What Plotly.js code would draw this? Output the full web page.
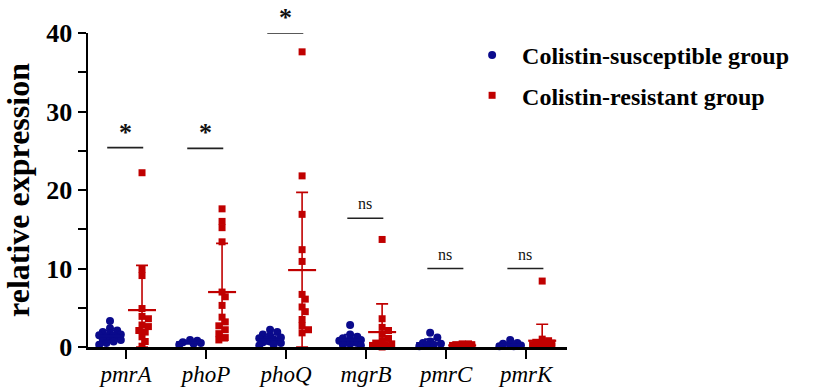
<!DOCTYPE html>
<html><head><meta charset="utf-8">
<script src="https://cdn.plot.ly/plotly-3.0.1.min.js"></script>
<style>html,body{margin:0;padding:0;background:#fff}#chart{width:813px;height:391px}</style>
</head><body><div id="chart"></div>
<script>
const genes = ['pmrA','phoP','phoQ','mgrB','pmrC','pmrK'];
const seriesNames = ['Colistin-susceptible group','Colistin-resistant group'];

const suscValues = [
  [3.3, 2.4, 2.1, 1.9, 1.7, 1.6, 1.5, 1.4, 1.3, 1.2, 1.1, 1.0, 0.9, 0.7, 0.5, 0.3],
  [0.9, 0.8, 0.6, 0.5, 0.4, 0.3],
  [2.2, 1.9, 1.6, 1.4, 1.2, 1.1, 1.0, 0.9, 0.8, 0.7, 0.6, 0.5, 0.3, 0.2],
  [2.8, 1.6, 1.3, 1.1, 1.0, 0.9, 0.8, 0.7, 0.6, 0.5, 0.4, 0.3, 0.2],
  [1.8, 1.2, 0.7, 0.5, 0.4, 0.3, 0.2, 0.1],
  [0.9, 0.5, 0.4, 0.3, 0.2, 0.1, 0.1]
];
const resValues = [
  [22.2, 9.9, 9.1, 4.9, 3.9, 3.6, 2.8, 2.6, 2.1, 1.9, 1.3, 0.7, 0.1],
  [17.6, 16.0, 15.2, 13.4, 7.0, 6.4, 5.3, 3.8, 3.2, 2.7, 2.2, 1.7, 1.2, 0.9],
  [37.6, 21.8, 16.9, 12.4, 10.9, 6.7, 6.1, 5.1, 4.5, 3.5, 2.7, 2.2, 1.8],
  [13.7, 3.6, 2.5, 2.1, 1.6, 1.1, 0.7, 0.5, 0.4, 0.3, 0.2, 0.1, 0.1, 0.0],
  [0.4, 0.4, 0.3, 0.3, 0.3, 0.2, 0.2, 0.2, 0.1, 0.1, 0.1, 0.1],
  [8.4, 1.0, 0.8, 0.6, 0.5, 0.4, 0.3, 0.3, 0.2, 0.2, 0.1, 0.1]
];
const suscMean = [1.4, 0.6, 1.0, 0.9, 0.5, 0.3];
const suscSD   = [0.7, 0.2, 0.6, 0.7, 0.5, 0.3];
const resMean  = [4.7, 7.0, 9.8, 1.9, 0.2, 0.8];
const resSD    = [5.7, 6.2, 9.9, 3.6, 0.1, 2.1];

const sigLabels  = ['*', '*', '*', 'ns', 'ns', 'ns'];
const sigHeights = [25.4, 25.3, 40, 16.4, 10, 10];
const yTicks = [0, 10, 20, 30, 40];

const BLUE = '#0a0a8c', RED = '#c00000';
const FONT = 'Liberation Serif';

// layout geometry
const M = {l: 88, r: 246, t: 33, b: 44};
const xRange = [-0.475, 5.51], yRange = [0, 40];
const pxPerX = (813 - M.l - M.r) / (xRange[1] - xRange[0]);
const pxPerY = (391 - M.t - M.b) / (yRange[1] - yRange[0]);
const groupOffset = 0.2;

// compact beeswarm computed from the values (points may overlap)
function swarm(vals, center, diam) {
  const order = vals.map((v, i) => i).sort((a, b) => vals[b] - vals[a]);
  const placed = [];
  const xs = new Array(vals.length);
  const step = diam * 0.4, maxK = 3, minD = diam * 0.7;
  order.forEach(i => {
    const py = vals[i] * pxPerY;
    let best = 0, bestScore = -1;
    for (let k = 0; k <= maxK * 2; k++) {
      const cand = k === 0 ? 0 : (k % 2 ? 1 : -1) * Math.ceil(k / 2) * step;
      const md = placed.length ? Math.min(...placed.map(p => Math.hypot(p.x - cand, p.y - py))) : 1e9;
      if (md >= minD) { best = cand; bestScore = 1e9; break; }
      if (md > bestScore) { bestScore = md; best = cand; }
    }
    placed.push({x: best, y: py});
    xs[i] = center + best / pxPerX;
  });
  return xs;
}

const traces = [];
function addGroup(values, means, sds, sign, color, symbol, size, name, lg) {
  let xs = [], ys = [];
  values.forEach((vals, g) => {
    const sx = swarm(vals, g + sign * groupOffset, size + 1);
    xs = xs.concat(sx); ys = ys.concat(vals);
  });
  traces.push({
    type: 'scatter', mode: 'markers', x: xs, y: ys, name: name, legendgroup: lg,
    marker: {color: color, symbol: symbol, size: size, line: {width: 0}},
    cliponaxis: false, hoverinfo: 'y'
  });
  traces.push({
    type: 'scatter', mode: 'markers', showlegend: false, legendgroup: lg,
    x: genes.map((g, i) => i + sign * groupOffset), y: means,
    marker: {symbol: 'line-ew', size: 20, line: {color: color, width: 2.2}},
    error_y: {type: 'data', array: sds, arrayminus: sds.map((s, i) => Math.min(s, means[i])),
              symmetric: false, color: color, thickness: 1.6, width: 6},
    cliponaxis: false, hoverinfo: 'y'
  });
}
addGroup(suscValues, suscMean, suscSD, -1, BLUE, 'circle', 8, seriesNames[0], 'a');
addGroup(resValues, resMean, resSD, 1, RED, 'square', 7, seriesNames[1], 'b');

const shapes = [], annotations = [];
sigHeights.forEach((h, i) => {
  shapes.push({type: 'line', xref: 'x', yref: 'y', x0: i - 0.235, x1: i + 0.215, y0: h, y1: h,
               line: {color: '#222', width: 1.6}});
  const star = sigLabels[i] === '*';
  annotations.push({xref: 'x', yref: 'y', x: i - 0.01, y: h, text: star ? '<b>*</b>' : sigLabels[i],
                    showarrow: false, yanchor: 'bottom', yshift: star ? -1 : 4,
                    font: {family: FONT, size: star ? 26 : 16, color: '#111'}});
});

const layout = {
  width: 813, height: 391, margin: M,
  paper_bgcolor: '#fff', plot_bgcolor: '#fff',
  font: {family: FONT, color: '#000'},
  showlegend: true,
  legend: {x: 0.781, y: 1.0, xanchor: 'left', yanchor: 'top', traceorder: 'grouped',
           tracegroupgap: 6, itemsizing: 'trace', itemwidth: 50,
           font: {family: FONT, size: 24, weight: 'bold', color: '#000'}},
  xaxis: {range: xRange, tickvals: genes.map((g, i) => i),
          ticktext: genes.map(g => '<i>' + g + '</i>'),
          showgrid: false, zeroline: false, showline: true, linecolor: '#000', linewidth: 2.5,
          ticks: 'outside', ticklen: 9, tickwidth: 2, tickcolor: '#000', ticklabelstandoff: -4,
          tickfont: {family: FONT, size: 23, color: '#000'}, fixedrange: true},
  yaxis: {range: yRange, tickvals: yTicks, showgrid: false, zeroline: false,
          showline: true, linecolor: '#000', linewidth: 2.5,
          ticks: 'outside', ticklen: 8, tickwidth: 2, tickcolor: '#000',
          minor: {dtick: 5, ticks: 'outside', ticklen: 8, tickwidth: 2, tickcolor: '#000'},
          tickfont: {family: FONT, size: 26, weight: 'bold', color: '#000'},
          title: {text: 'relative expression', standoff: 17,
                  font: {family: FONT, size: 32, weight: 'bold', color: '#000'}},
          fixedrange: true},
  shapes: shapes, annotations: annotations
};

Plotly.newPlot('chart', traces, layout, {displayModeBar: false, staticPlot: true});
</script>
</body></html>
